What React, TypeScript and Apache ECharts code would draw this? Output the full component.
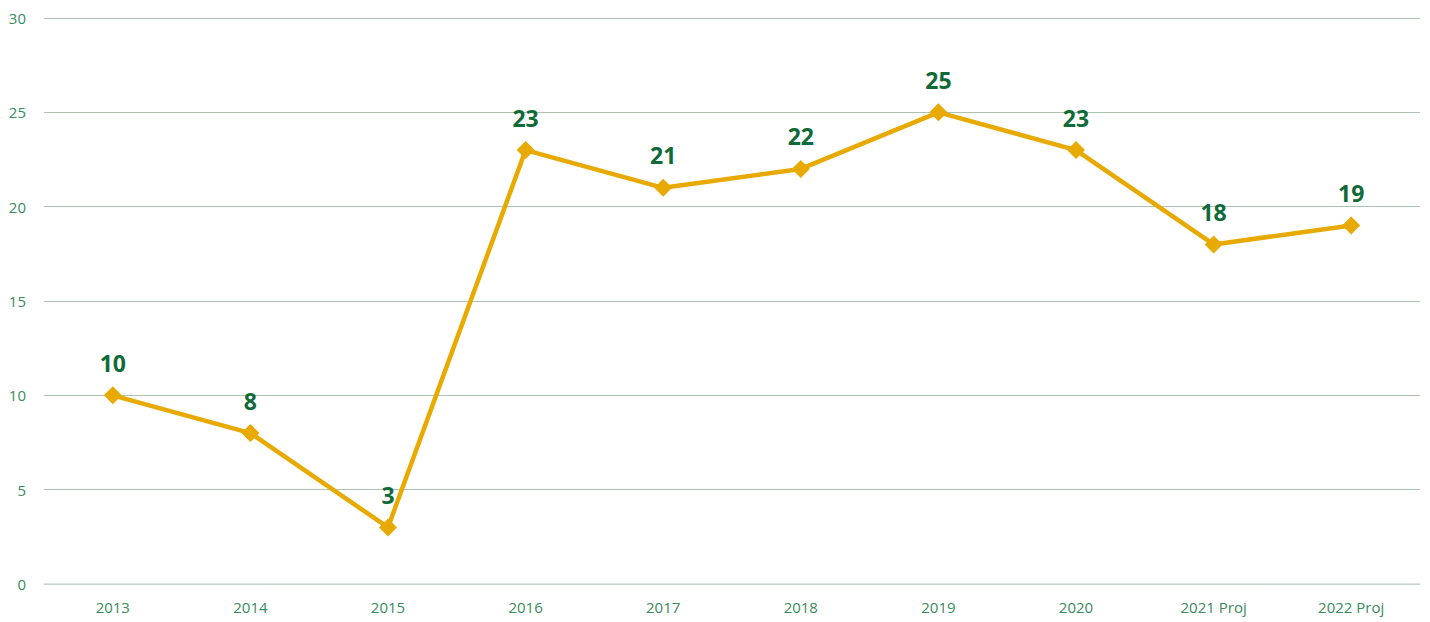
import React, { useEffect, useRef } from "react";
import * as echarts from "echarts";

const categories = ["2013", "2014", "2015", "2016", "2017", "2018", "2019", "2020", "2021 Proj", "2022 Proj"];
const values = [10, 8, 3, 23, 21, 22, 25, 23, 18, 19];
const yMin = 0;
const yMax = 30;
const yInterval = 5;

export default function App() {
  const ref = useRef<HTMLDivElement>(null);
  useEffect(() => {
    if (!ref.current) return;
    const chart = echarts.init(ref.current, null, { renderer: "svg" });
    chart.setOption({
      animation: false,
      grid: { left: 44, right: 10, top: 18, bottom: 38, containLabel: false },
      xAxis: {
        type: "category",
        data: categories,
        boundaryGap: true,
        z: 5,
        axisLine: { show: true, lineStyle: { color: "#d3dcd5", width: 1.5 } },
        axisTick: { show: false },
        axisLabel: { color: "#3a8a5c", fontSize: 15, fontFamily: "Open Sans", margin: 15 },
      },
      yAxis: {
        type: "value",
        min: yMin,
        max: yMax,
        interval: yInterval,
        axisLine: { show: false },
        axisTick: { show: false },
        axisLabel: { color: "#3a8a5c", fontSize: 15, fontFamily: "Open Sans", margin: 18 },
        splitLine: { lineStyle: { color: "#a9c2b2", width: 1 } },
      },
      series: [
        {
          type: "line",
          data: values,
          symbol: "diamond",
          symbolSize: 18,
          lineStyle: { color: "#e8a900", width: 4.5 },
          itemStyle: { color: "#e8a900" },
          label: {
            show: true,
            position: "top",
            distance: 12,
            color: "#0f6a38",
            fontSize: 23,
            fontWeight: "bold",
            fontFamily: "Open Sans",
          },
        },
      ],
    });
    return () => chart.dispose();
  }, []);
  return (
    <div
      ref={ref}
      style={{ position: "fixed", left: 0, top: 0, width: 1430, height: 622, background: "#fff" }}
    />
  );
}
